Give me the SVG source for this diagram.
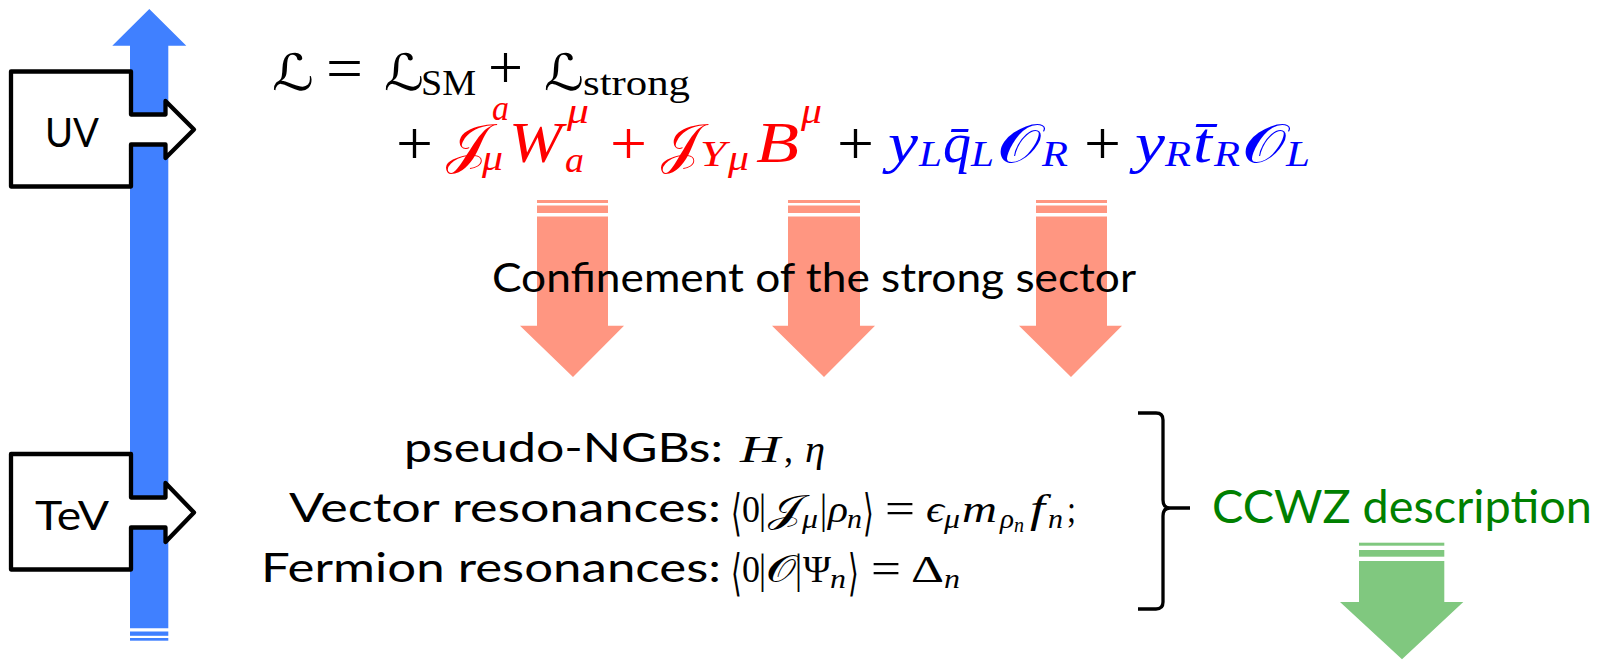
<svg xmlns="http://www.w3.org/2000/svg" width="1606" height="660" viewBox="0 0 1606 660">
<style>
.lbl{font-family:Lato,"Open Sans","Liberation Sans",sans-serif;fill:#000}
.m{font-family:"Liberation Serif",serif;fill:#000}
.i{font-style:italic}
.sc{font-family:"DejaVu Serif","DejaVu Sans","Noto Sans",serif;font-style:normal}
.br{font-family:"DejaVu Sans","Noto Sans",sans-serif;font-weight:200}
.red{fill:#ff0000}
.blue{fill:#0000ff}
.callout{fill:#fff;stroke:#000;stroke-width:4.3;stroke-linejoin:round}
.salmon{fill:#ff9681}
.green{fill:#80c87f}
.blueA{fill:#4080ff}
</style>

<g id="scale-arrow">
  <polygon class="blueA" points="112.3,45.7 149.3,9 186.3,45.7 168.3,45.7 168.3,628.3 130,628.3 130,45.7"/>
  <rect class="blueA" x="130" y="631.5" width="38.3" height="4.3"/>
  <rect class="blueA" x="130" y="638" width="38.3" height="2.7"/>
</g>

<g id="uv">
  <path class="callout" d="M11,71.5 H131 V114.5 H165.5 V101 L194,129.5 L165.5,158 V144.5 H131 V186.5 H11 Z"/>
  <text class="lbl" x="45" y="147" font-size="41" textLength="54" lengthAdjust="spacingAndGlyphs">UV</text>
</g>

<g id="tev">
  <path class="callout" d="M11,454 H131 V497.5 H165.5 V483 L194,512.5 L165.5,542 V527.5 H131 V569.5 H11 Z"/>
  <text class="lbl" x="35" y="530" font-size="41" textLength="74" lengthAdjust="spacingAndGlyphs">TeV</text>
</g>

<g id="lagrangian">
  <text class="m sc" x="272" y="90" font-size="50" textLength="42" lengthAdjust="spacingAndGlyphs">ℒ</text>
  <text class="m" x="326" y="89" font-size="62" textLength="37" lengthAdjust="spacingAndGlyphs">=</text>
  <text class="m sc" x="384" y="90" font-size="50" textLength="40" lengthAdjust="spacingAndGlyphs">ℒ</text>
  <text class="m" x="421" y="95" font-size="35" textLength="55" lengthAdjust="spacingAndGlyphs">SM</text>
  <text class="m" x="488" y="88" font-size="62" textLength="35" lengthAdjust="spacingAndGlyphs">+</text>
  <text class="m sc" x="544" y="90" font-size="50" textLength="40" lengthAdjust="spacingAndGlyphs">ℒ</text>
  <text class="m" x="583" y="95" font-size="35" textLength="107" lengthAdjust="spacingAndGlyphs">strong</text>

  <text class="m" x="396" y="164" font-size="62" textLength="37" lengthAdjust="spacingAndGlyphs">+</text>
  <text class="m sc red" x="446" y="162" font-size="54" textLength="42" lengthAdjust="spacingAndGlyphs">𝒥</text>
  <text class="m i red" x="492" y="120" font-size="36" textLength="17" lengthAdjust="spacingAndGlyphs">a</text>
  <text class="m i red" x="482" y="170" font-size="36" textLength="21" lengthAdjust="spacingAndGlyphs">μ</text>
  <text class="m i red" x="509" y="162" font-size="56" textLength="53" lengthAdjust="spacingAndGlyphs">W</text>
  <text class="m i red" x="567" y="123" font-size="36" textLength="22" lengthAdjust="spacingAndGlyphs">μ</text>
  <text class="m i red" x="565" y="172" font-size="36" textLength="19" lengthAdjust="spacingAndGlyphs">a</text>
  <text class="m red" x="610" y="164" font-size="62" textLength="37" lengthAdjust="spacingAndGlyphs">+</text>
  <text class="m sc red" x="661" y="162" font-size="54" textLength="39" lengthAdjust="spacingAndGlyphs">𝒥</text>
  <text class="m i red" x="700" y="166" font-size="36" textLength="26" lengthAdjust="spacingAndGlyphs">Y</text>
  <text class="m i red" x="728" y="170" font-size="36" textLength="21" lengthAdjust="spacingAndGlyphs">μ</text>
  <text class="m i red" x="756" y="162" font-size="58" textLength="43" lengthAdjust="spacingAndGlyphs">B</text>
  <text class="m i red" x="801" y="123" font-size="36" textLength="21" lengthAdjust="spacingAndGlyphs">μ</text>

  <text class="m" x="837" y="164" font-size="62" textLength="37" lengthAdjust="spacingAndGlyphs">+</text>
  <text class="m i blue" x="888" y="162" font-size="58" textLength="30" lengthAdjust="spacingAndGlyphs">y</text>
  <text class="m i blue" x="919" y="166" font-size="36" textLength="23" lengthAdjust="spacingAndGlyphs">L</text>
  <text class="m i blue" x="943" y="162" font-size="56" textLength="28" lengthAdjust="spacingAndGlyphs">q̄</text>
  <text class="m i blue" x="971" y="166" font-size="36" textLength="23" lengthAdjust="spacingAndGlyphs">L</text>
  <text class="m sc blue" x="997" y="162" font-size="54" textLength="44" lengthAdjust="spacingAndGlyphs">𝒪</text>
  <text class="m i blue" x="1042" y="166" font-size="36" textLength="26" lengthAdjust="spacingAndGlyphs">R</text>
  <text class="m" x="1084" y="164" font-size="62" textLength="37" lengthAdjust="spacingAndGlyphs">+</text>
  <text class="m i blue" x="1135" y="162" font-size="58" textLength="30" lengthAdjust="spacingAndGlyphs">y</text>
  <text class="m i blue" x="1165" y="166" font-size="36" textLength="26" lengthAdjust="spacingAndGlyphs">R</text>
  <text class="m i blue" x="1193" y="162" font-size="58" textLength="19" lengthAdjust="spacingAndGlyphs">t̄</text>
  <text class="m i blue" x="1214" y="166" font-size="36" textLength="26" lengthAdjust="spacingAndGlyphs">R</text>
  <text class="m sc blue" x="1242" y="162" font-size="54" textLength="44" lengthAdjust="spacingAndGlyphs">𝒪</text>
  <text class="m i blue" x="1286" y="166" font-size="36" textLength="24" lengthAdjust="spacingAndGlyphs">L</text>
</g>

<g id="confinement-arrows">
  <g id="arrow-1">
    <rect class="salmon" x="537" y="200" width="71" height="3"/>
    <rect class="salmon" x="537" y="205.5" width="71" height="7.5"/>
    <polygon class="salmon" points="537,216.5 608,216.5 608,325.7 624,325.7 573,377 520,325.7 537,325.7"/>
  </g>
  <g id="arrow-2">
    <rect class="salmon" x="788" y="200" width="72" height="3"/>
    <rect class="salmon" x="788" y="205.5" width="72" height="7.5"/>
    <polygon class="salmon" points="788,216.5 860,216.5 860,325.7 875,325.7 824,377 772,325.7 788,325.7"/>
  </g>
  <g id="arrow-3">
    <rect class="salmon" x="1036" y="200" width="71" height="3"/>
    <rect class="salmon" x="1036" y="205.5" width="71" height="7.5"/>
    <polygon class="salmon" points="1036,216.5 1107,216.5 1107,325.7 1122,325.7 1071,377 1019,325.7 1036,325.7"/>
  </g>
</g>

<g id="confinement-label">
  <text class="lbl" x="492" y="292" font-size="40" textLength="644" lengthAdjust="spacingAndGlyphs">Confinement of the strong sector</text>
</g>

<g id="pngb">
  <text class="lbl" x="404" y="462" font-size="40" textLength="319" lengthAdjust="spacingAndGlyphs">pseudo-NGBs:</text>
  <text class="m i" x="740" y="462" font-size="38" textLength="40" lengthAdjust="spacingAndGlyphs">H</text>
  <text class="m" x="784" y="462" font-size="38" textLength="9" lengthAdjust="spacingAndGlyphs">,</text>
  <text class="m i" x="805" y="462" font-size="38" textLength="20" lengthAdjust="spacingAndGlyphs">η</text>
</g>

<g id="vector">
  <text class="lbl" x="289" y="522" font-size="40" textLength="432" lengthAdjust="spacingAndGlyphs">Vector resonances:</text>
  <text class="br" x="731" y="530" font-size="50" textLength="11" lengthAdjust="spacingAndGlyphs">⟨</text>
  <text class="m" x="742" y="522" font-size="38" textLength="18" lengthAdjust="spacingAndGlyphs">0</text>
  <text class="m" x="759" y="523" font-size="42" textLength="7" lengthAdjust="spacingAndGlyphs">|</text>
  <text class="m sc" x="768" y="522" font-size="38" textLength="34" lengthAdjust="spacingAndGlyphs">𝒥</text>
  <text class="m i" x="802" y="528" font-size="27" textLength="16" lengthAdjust="spacingAndGlyphs">μ</text>
  <text class="m" x="820" y="523" font-size="42" textLength="7" lengthAdjust="spacingAndGlyphs">|</text>
  <text class="m i" x="828" y="522" font-size="38" textLength="20" lengthAdjust="spacingAndGlyphs">ρ</text>
  <text class="m i" x="847" y="528" font-size="27" textLength="15" lengthAdjust="spacingAndGlyphs">n</text>
  <text class="br" x="863" y="530" font-size="50" textLength="11" lengthAdjust="spacingAndGlyphs">⟩</text>
  <text class="m" x="885" y="523" font-size="44" textLength="30" lengthAdjust="spacingAndGlyphs">=</text>
  <text class="m i" x="926" y="522" font-size="38" textLength="18" lengthAdjust="spacingAndGlyphs">ϵ</text>
  <text class="m i" x="944" y="528" font-size="27" textLength="16" lengthAdjust="spacingAndGlyphs">μ</text>
  <text class="m i" x="962" y="522" font-size="38" textLength="35" lengthAdjust="spacingAndGlyphs">m</text>
  <text class="m i" x="1000" y="528" font-size="27" textLength="14" lengthAdjust="spacingAndGlyphs">ρ</text>
  <text class="m i" x="1014" y="532" font-size="20" textLength="10" lengthAdjust="spacingAndGlyphs">n</text>
  <text class="m i" x="1030" y="522" font-size="40" textLength="15" lengthAdjust="spacingAndGlyphs">f</text>
  <text class="m i" x="1048" y="528" font-size="27" textLength="15" lengthAdjust="spacingAndGlyphs">n</text>
  <text class="m" x="1067" y="522" font-size="38" textLength="9" lengthAdjust="spacingAndGlyphs">;</text>
</g>

<g id="fermion">
  <text class="lbl" x="261" y="582" font-size="40" textLength="460" lengthAdjust="spacingAndGlyphs">Fermion resonances:</text>
  <text class="br" x="731" y="590" font-size="50" textLength="11" lengthAdjust="spacingAndGlyphs">⟨</text>
  <text class="m" x="742" y="582" font-size="38" textLength="18" lengthAdjust="spacingAndGlyphs">0</text>
  <text class="m" x="759" y="583" font-size="42" textLength="7" lengthAdjust="spacingAndGlyphs">|</text>
  <text class="m sc" x="766" y="582" font-size="38" textLength="30" lengthAdjust="spacingAndGlyphs">𝒪</text>
  <text class="m" x="795" y="583" font-size="42" textLength="7" lengthAdjust="spacingAndGlyphs">|</text>
  <text class="m" x="803" y="582" font-size="38" textLength="28" lengthAdjust="spacingAndGlyphs">Ψ</text>
  <text class="m i" x="830" y="588" font-size="27" textLength="16" lengthAdjust="spacingAndGlyphs">n</text>
  <text class="br" x="848" y="590" font-size="50" textLength="11" lengthAdjust="spacingAndGlyphs">⟩</text>
  <text class="m" x="871" y="583" font-size="44" textLength="30" lengthAdjust="spacingAndGlyphs">=</text>
  <text class="m" x="911" y="582" font-size="38" textLength="33" lengthAdjust="spacingAndGlyphs">Δ</text>
  <text class="m i" x="944" y="588" font-size="27" textLength="16" lengthAdjust="spacingAndGlyphs">n</text>
</g>

<g id="brace">
  <path d="M1138,413 H1156 Q1163,413 1163,420 V500 Q1163,508 1170,508 H1190 M1170,508 Q1163,508 1163,516 V602 Q1163,609 1156,609 H1138" fill="none" stroke="#000" stroke-width="3.3"/>
</g>

<g id="ccwz">
  <text class="lbl" x="1212" y="523" font-size="47" style="fill:#008000" textLength="380" lengthAdjust="spacingAndGlyphs">CCWZ description</text>
</g>

<g id="ccwz-arrow">
  <rect class="green" x="1359" y="542.7" width="85.3" height="3"/>
  <rect class="green" x="1359" y="550" width="85.3" height="6.7"/>
  <polygon class="green" points="1359,561 1444.3,561 1444.3,602 1463.3,602 1402,659.3 1340,602 1359,602"/>
</g>
</svg>
